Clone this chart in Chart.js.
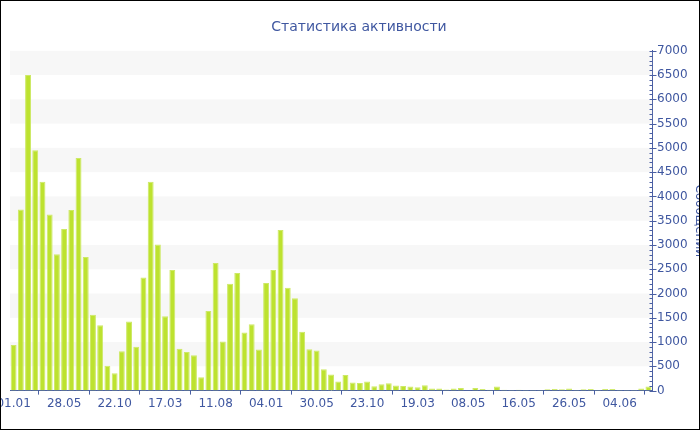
<!DOCTYPE html>
<html>
<head>
<meta charset="utf-8">
<script src="https://cdn.jsdelivr.net/npm/chart.js@4.4.0/dist/chart.umd.min.js"></script>
<style>
    html, body { margin: 0; padding: 0; background: #fff; }
    #frame { position: relative; width: 700px; height: 430px; overflow: hidden; }
    #wrap { position: absolute; left: -8px; top: 0; width: 716px; height: 430px; }
    #border { position: absolute; left: 0; top: 0; width: 700px; height: 430px; box-sizing: border-box; border: 1px solid #000; pointer-events: none; }
</style>
</head>
<body>
<div id="frame">
    <div id="wrap"><canvas id="activityChart"></canvas></div>
    <div id="border"></div>
</div>
<script>
// Data
const tickLabels = ['01.01', '28.05', '22.10', '17.03', '11.08', '04.01', '30.05', '23.10', '19.03', '08.05', '16.05', '26.05', '04.06'];
const labelEvery = 7;

const messages = [
    940, 3730, 6500, 4950, 4300, 3630, 2810, 3330, 3720, 4790,
    2750, 1560, 1345, 510, 355, 810, 1425, 905, 2330, 4300,
    3010, 1530, 2485, 860, 795, 730, 275, 1640, 2630, 1010,
    2200, 2425, 1195, 1365, 845, 2215, 2485, 3310, 2120, 1900,
    1210, 850, 825, 440, 330, 190, 320, 165, 158, 188,
    90, 130, 150, 103, 96, 82, 69, 110, 41, 41,
    25, 41, 55, 7, 55, 34, 20, 82, 20, 14,
    20, 14, 14, 14, 27, 34, 27, 41, 14, 27,
    34, 14, 34, 34, 14, 14, 14, 41, 82
];

// one category per bar, only every 7th one carries a date
const categories = messages.map((_, i) => i % labelEvery === 0 ? tickLabels[i / labelEvery] : '');

const TEXT = '#3f57a0';
const AXIS = '#4a5fa3';
const FONT = 'DejaVu Sans';

// shaded 500-wide bands behind the bars
const bandPlugin = {
    id: 'bands',
    beforeDatasetsDraw(chart) {
        const {ctx, chartArea, scales: {y}} = chart;
        ctx.save();
        ctx.fillStyle = '#f7f7f7';
        for (let v = 500; v < 7000; v += 1000) {
            const top = y.getPixelForValue(v + 500);
            const bottom = y.getPixelForValue(v);
            ctx.fillRect(chartArea.left, top, chartArea.right - chartArea.left, bottom - top);
        }
        ctx.restore();
    }
};

// major and minor tick marks on the right axis
const yTicksPlugin = {
    id: 'yTicks',
    afterDraw(chart) {
        const {ctx, scales: {y}} = chart;
        const x = Math.round(y.left) + 0.5;
        ctx.save();
        ctx.strokeStyle = AXIS;
        ctx.lineWidth = 1;
        ctx.beginPath();
        for (let v = 0; v <= 7000; v += 100) {
            const py = Math.round(y.getPixelForValue(v)) + 0.5;
            if (v % 500 === 0) {
                ctx.moveTo(x - 3, py);
                ctx.lineTo(x + 4, py);
            } else {
                ctx.moveTo(x - 3, py);
                ctx.lineTo(x, py);
            }
        }
        ctx.stroke();
        ctx.restore();
    }
};

new Chart(document.getElementById('activityChart').getContext('2d'), {
    type: 'bar',
    data: {
        labels: categories,
        datasets: [{
            label: 'Сообщений',
            data: messages,
            backgroundColor: '#bde22f',
            borderColor: '#cde966',
            borderWidth: 1,
            barPercentage: 0.82,
            categoryPercentage: 1.0
        }]
    },
    options: {
        responsive: true,
        maintainAspectRatio: false,
        animation: false,
        layout: {
            padding: { left: 18, right: 0, top: 0, bottom: 17 }
        },
        plugins: {
            legend: { display: false },
            title: {
                display: true,
                text: 'Статистика активности',
                color: TEXT,
                font: { family: FONT, size: 14, weight: 'normal' },
                padding: { top: 19, bottom: 15 }
            }
        },
        scales: {
            x: {
                offset: true,
                grid: { display: true, drawOnChartArea: false, drawTicks: true, tickLength: 4, color: AXIS },
                border: { display: true, color: AXIS, width: 1 },
                ticks: {
                    autoSkip: false,
                    maxRotation: 0,
                    minRotation: 0,
                    padding: 2,
                    color: TEXT,
                    font: { family: FONT, size: 12 },
                    callback: (value, index) => categories[index] || null
                }
            },
            y: {
                position: 'right',
                min: 0,
                max: 7000,
                grid: { display: false, drawTicks: false, tickLength: 0 },
                border: { display: true, color: AXIS, width: 1 },
                ticks: {
                    stepSize: 500,
                    padding: 5,
                    color: TEXT,
                    font: { family: FONT, size: 12 },
                    callback: value => String(value)
                },
                title: {
                    display: true,
                    text: 'Сообщений',
                    color: TEXT,
                    font: { family: FONT, size: 12 },
                    padding: { top: 2, bottom: -1 }
                }
            }
        }
    },
    plugins: [bandPlugin, yTicksPlugin]
});
</script>
</body>
</html>
